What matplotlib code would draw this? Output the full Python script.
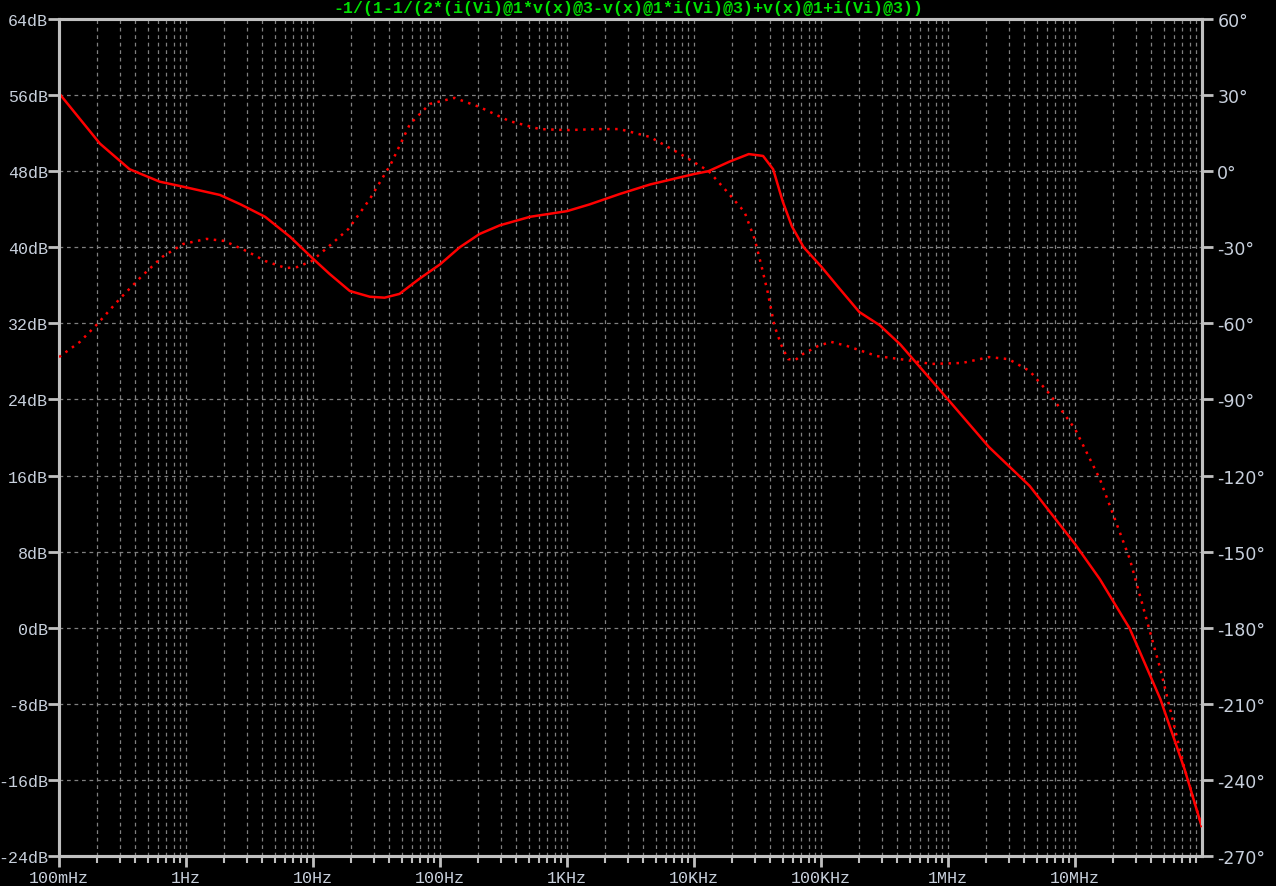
import matplotlib
matplotlib.use('Agg')
import matplotlib.pyplot as plt
from matplotlib.ticker import FixedLocator, LogLocator, NullFormatter
import numpy as np

# magnitude (dB)
mag_freq = [0.1, 0.21, 0.36, 0.62, 1.0, 1.85, 2.7, 4.2, 6.6, 10, 13.5, 19.5, 28, 36.6, 48, 69,
            100, 143, 205, 295, 510, 1000, 1500, 2600, 4500, 10000, 13000, 19000, 27000, 35000,
            42000, 50000, 59000, 73000, 100000, 135000, 200000, 290000, 420000, 1.0e6, 2.1e6,
            4.4e6, 1.0e7, 1.57e7, 2.7e7, 4.7e7, 7.3e7, 1.0e8]
mag_db = [56.2, 50.9, 48.2, 46.9, 46.3, 45.5, 44.5, 43.2, 41.1, 38.8, 37.2, 35.4, 34.8, 34.7, 35.1, 36.7,
          38.2, 40.0, 41.4, 42.3, 43.2, 43.8, 44.5, 45.6, 46.6, 47.7, 48.0, 49.0, 49.8, 49.6,
          48.2, 44.8, 42.2, 40.0, 38.0, 35.9, 33.2, 31.8, 29.8, 24.0, 19.0,
          14.9, 8.8, 5.1, -0.1, -7.5, -14.9, -21.0]

# phase (degrees)
ph_freq = [0.1, 0.146, 0.2, 0.3, 0.45, 0.65, 0.95, 1.45, 2.0, 3.0, 4.2, 6.1, 7.5, 9.8, 14, 19,
           28, 41, 58, 83, 130, 205, 350, 610, 1000, 1800, 2600, 4500, 7800, 13000, 18000,
           25000, 30000, 34000, 38000, 43000, 49000, 55000, 63000, 72000, 95000, 120000,
           160000, 275000, 420000, 740000, 1.3e6, 2.1e6, 3.0e6, 4.4e6, 6.3e6, 1.0e7, 1.57e7,
           2.7e7, 4.7e7, 7.3e7, 1.0e8]
ph_deg = [-73.3, -67.3, -60.3, -50.4, -41.3, -33.8, -28.7, -26.7, -27.5, -31.5, -35.4, -38.2, -37.8, -35.4, -28.7, -22.8,
          -11.0, 2.8, 18.6, 26.5, 28.9, 25.3, 19.8, 16.6, 16.2, 16.6, 16.6, 13.5, 6.8, 0.1, -7.8,
          -16.1, -26.7, -37.4, -47.6, -61.0, -68.9, -74.1, -74.4, -72.1, -68.9, -67.3,
          -68.9, -72.9, -74.1, -76.0, -75.6, -73.3, -74.1, -78.8, -87.8, -101.6, -121.4,
          -152.9, -196.3, -235.7, -258.6]

db_ticks = list(range(-24, 65, 8))
deg_ticks = list(range(-270, 61, 30))
freq_ticks = [0.1, 1, 10, 100, 1e3, 1e4, 1e5, 1e6, 1e7]
freq_labels = ['100mHz', '1Hz', '10Hz', '100Hz', '1KHz', '10KHz', '100KHz', '1MHz', '10MHz']
title = '-1/(1-1/(2*(i(Vi)@1*v(x)@3-v(x)@1*i(Vi)@3)+v(x)@1+i(Vi)@3))'

bg = 'black'
axcol = '#c0c0c0'
txtcol = '#c8d0dc'
gridcol = '#808080'

fig = plt.figure(figsize=(12.76, 8.87), dpi=100, facecolor=bg)
ax = fig.add_axes([59 / 1276, 1 - 857 / 887, (1202 - 59) / 1276, (857 - 20) / 887])
ax.set_facecolor(bg)

ax.plot(mag_freq, mag_db, color='red', linewidth=1.8, zorder=3)
ax.set_xscale('log')
ax.set_xlim(0.1, 1e8)
ax.set_ylim(-24, 64)

ax2 = ax.twinx()
ax2.plot(ph_freq, ph_deg, color='red', linewidth=1.8, linestyle=(0, (1, 2.2)), zorder=3)
ax2.set_ylim(-270, 60)

# grid + ticks
ax.xaxis.set_major_locator(FixedLocator(freq_ticks))
ax.set_xticklabels(freq_labels)
ax.xaxis.set_minor_locator(LogLocator(base=10, subs=np.arange(2, 10), numticks=20))
ax.xaxis.set_minor_formatter(NullFormatter())
ax.set_yticks(db_ticks)
ax.set_yticklabels([str(v) + 'dB' for v in db_ticks])
ax2.set_yticks(deg_ticks)
ax2.set_yticklabels([str(v) + '°' for v in deg_ticks])

ax.grid(True, which='both', axis='x', color=gridcol, linestyle=(0, (3, 3)), linewidth=0.9)
ax.grid(True, which='major', axis='y', color=gridcol, linestyle=(0, (3, 3)), linewidth=0.9)

ax.tick_params(axis='x', which='major', direction='out', length=8, width=2, color=axcol,
               labelcolor=txtcol, labelsize=12, pad=2)
ax.tick_params(axis='x', which='minor', direction='out', length=5, width=1.5, color=axcol)
ax.tick_params(axis='y', which='major', direction='out', length=8, width=2, color=axcol,
               labelcolor=txtcol, labelsize=12, pad=0)
ax2.tick_params(axis='y', which='major', direction='out', length=8, width=2, color=axcol,
                labelcolor=txtcol, labelsize=12.5, pad=3)

for lab in ax.get_xticklabels() + ax.get_yticklabels():
    lab.set_family('Liberation Mono')
for lab in ax2.get_yticklabels():
    lab.set_family('DejaVu Sans')

for a in (ax, ax2):
    for s in a.spines.values():
        s.set_color(axcol)
        s.set_linewidth(2.2)

fig.text(628 / 1276, 1 - 8 / 887, title, color='#00e000', ha='center', va='center',
         fontsize=12, family='Liberation Mono', fontweight='bold')

fig.savefig('out.png', dpi=100, facecolor=bg)
